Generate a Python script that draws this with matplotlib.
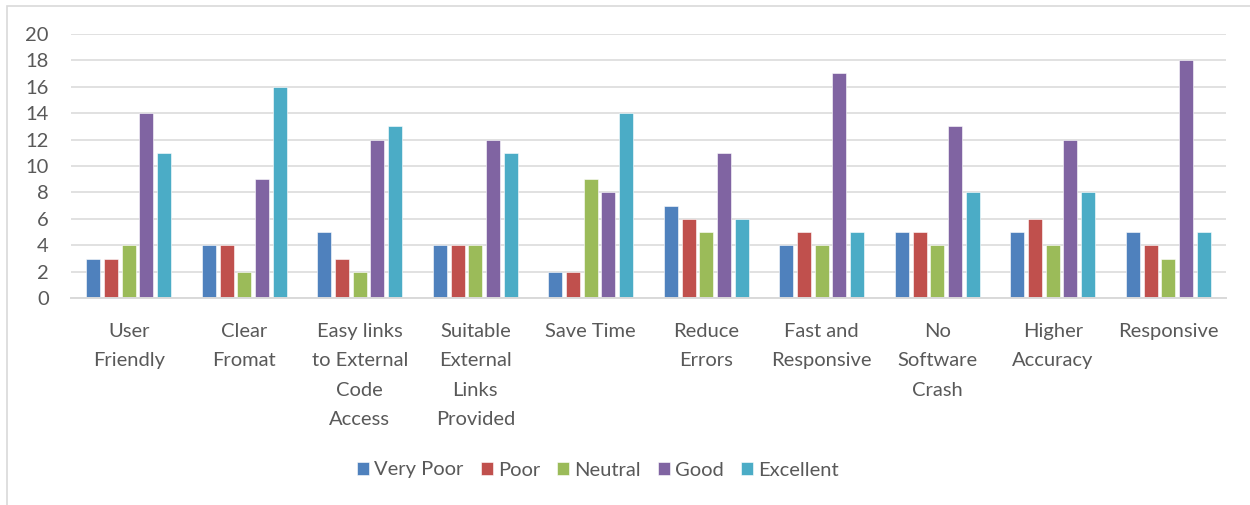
import matplotlib

matplotlib.use("Agg")
import matplotlib.pyplot as plt
import numpy as np
from matplotlib.patches import Rectangle

plt.rcParams["font.family"] = ["Lato", "DejaVu Sans"]

categories = [
    "User\nFriendly",
    "Clear\nFromat",
    "Easy links\nto External\nCode\nAccess",
    "Suitable\nExternal\nLinks\nProvided",
    "Save Time",
    "Reduce\nErrors",
    "Fast and\nResponsive",
    "No\nSoftware\nCrash",
    "Higher\nAccuracy",
    "Responsive",
]
series_names = ["Very Poor", "Poor", "Neutral", "Good", "Excellent"]
very_poor = [3, 4, 5, 4, 2, 7, 4, 5, 5, 5]
poor = [3, 4, 3, 4, 2, 6, 5, 5, 6, 4]
neutral = [4, 2, 2, 4, 9, 5, 4, 4, 4, 3]
good = [14, 9, 12, 12, 8, 11, 17, 13, 12, 18]
excellent = [11, 16, 13, 11, 14, 6, 5, 8, 8, 5]
colors = ["#4F81BD", "#C0504D", "#9BBB59", "#8064A2", "#4BACC6"]

text_color = "#595959"
grid_color = "#D9D9D9"

fig = plt.figure(figsize=(12.5, 5.05), dpi=100)
ax = fig.add_axes([71 / 1250, 1 - 298.3 / 505, 1155 / 1250, 264.6 / 505])

x = np.arange(len(categories))
step = 0.153
width = 0.121
handles = []
for i, (name, vals) in enumerate(zip(series_names, [very_poor, poor, neutral, good, excellent])):
    b = ax.bar(x + (i - 2) * step, vals, width, color=colors[i], edgecolor="white",
               linewidth=0.4, label=name, zorder=3)
    handles.append(b)

ax.set_xlim(-0.5, len(categories) - 0.5)
ax.set_ylim(0, 20)
ax.set_yticks(range(0, 21, 2))
ax.yaxis.grid(True, color=grid_color, linewidth=1.1, zorder=0)
ax.set_axisbelow(True)
for side in ["top", "right", "left"]:
    ax.spines[side].set_visible(False)
ax.spines["bottom"].set_color(grid_color)
ax.spines["bottom"].set_linewidth(1.4)
ax.spines["bottom"].set_zorder(4)

ax.set_xticks(x)
ax.set_xticklabels(categories, fontsize=14.5, color=text_color, linespacing=1.9)
ax.tick_params(axis="x", length=0, pad=17.5)
ax.tick_params(axis="y", length=0, pad=16, labelsize=14.5, labelcolor=text_color)

fig.legend(handles=handles, labels=series_names, loc="center",
           bbox_to_anchor=(598 / 1250, 1 - 470 / 505), ncol=5, frameon=False,
           fontsize=14.5, labelcolor=text_color, handlelength=0.6, handleheight=0.6,
           handletextpad=0.25, columnspacing=0.85)

fig.patches.append(Rectangle((6.5 / 1250, -0.1), 1.2, 1.1 - 5.5 / 505, transform=fig.transFigure,
                             fill=False, edgecolor=grid_color, linewidth=1.2))

fig.savefig("out.png", dpi=100)
